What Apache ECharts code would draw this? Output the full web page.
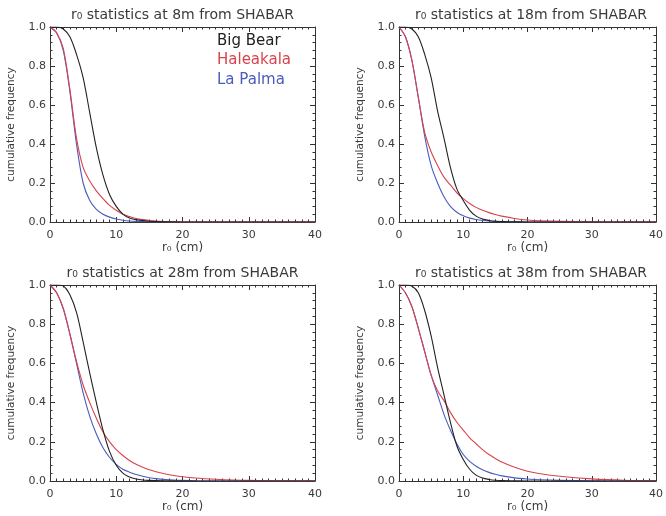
<!DOCTYPE html>
<html>
<head>
<meta charset="utf-8">
<script src="https://cdn.jsdelivr.net/npm/echarts@6/dist/echarts.min.js"></script>
<style>
html,body{margin:0;padding:0;background:#fff;}
#chart{width:666px;height:516px;}
</style>
</head>
<body>
<div id="chart"></div>
<script>
// r0 values (cm)
const xs = [0,1,2,3,4,5,6,7,8,9,10,11,12,13,14,15,16,18,20,22,25,30,35,40];

const seriesNames = ['Big Bear', 'Haleakala', 'La Palma'];
const panelTitles = [
  'r\u2080 statistics at 8m from SHABAR',
  'r\u2080 statistics at 18m from SHABAR',
  'r\u2080 statistics at 28m from SHABAR',
  'r\u2080 statistics at 38m from SHABAR'
];
const xAxisName = 'r\u2080 (cm)';
const yAxisName = 'cumulative frequency';

// 8 m
const bigBear8   = [1,1,0.99,0.95,0.86,0.74,0.56,0.38,0.24,0.14,0.08,0.04,0.02,0.012,0.007,0.004,0.002,0.001,0,0,0,0,0,0];
const haleakala8 = [1,0.97,0.89,0.68,0.43,0.28,0.21,0.16,0.12,0.085,0.06,0.04,0.028,0.018,0.012,0.008,0.005,0.002,0,0,0,0,0,0];
const laPalma8   = [1,0.97,0.88,0.67,0.40,0.20,0.11,0.065,0.04,0.025,0.015,0.009,0.005,0.003,0.002,0.001,0.0005,0,0,0,0,0,0,0];
// 18 m
const bigBear18   = [1,1,0.99,0.95,0.86,0.74,0.57,0.43,0.28,0.17,0.11,0.06,0.03,0.015,0.008,0.004,0.002,0.001,0,0,0,0,0,0];
const haleakala18 = [1,0.95,0.83,0.64,0.46,0.36,0.29,0.23,0.19,0.15,0.12,0.095,0.075,0.06,0.048,0.038,0.03,0.018,0.01,0.006,0.003,0.001,0,0];
const laPalma18   = [1,0.95,0.83,0.64,0.44,0.29,0.20,0.13,0.08,0.05,0.032,0.02,0.013,0.008,0.005,0.003,0.002,0.001,0,0,0,0,0,0];
// 28 m
const bigBear28   = [1,1,0.995,0.95,0.86,0.71,0.55,0.40,0.26,0.15,0.08,0.04,0.02,0.01,0.005,0.003,0.002,0.001,0,0,0,0,0,0];
const haleakala28 = [1,0.96,0.88,0.75,0.61,0.49,0.40,0.32,0.25,0.20,0.16,0.13,0.105,0.085,0.07,0.057,0.047,0.032,0.022,0.015,0.009,0.003,0.001,0];
const laPalma28   = [1,0.96,0.88,0.75,0.60,0.45,0.33,0.24,0.17,0.12,0.085,0.06,0.045,0.033,0.024,0.017,0.012,0.006,0.003,0.001,0,0,0,0];
// 38 m
const bigBear38   = [1,1,0.995,0.96,0.87,0.74,0.58,0.44,0.30,0.18,0.11,0.06,0.03,0.015,0.008,0.004,0.002,0.001,0,0,0,0,0,0];
const haleakala38 = [1,0.96,0.89,0.78,0.66,0.54,0.46,0.41,0.35,0.30,0.26,0.22,0.19,0.16,0.135,0.115,0.097,0.07,0.05,0.037,0.024,0.011,0.004,0.001];
const laPalma38   = [1,0.96,0.89,0.78,0.66,0.54,0.44,0.34,0.26,0.19,0.135,0.10,0.075,0.057,0.044,0.034,0.026,0.016,0.01,0.006,0.003,0.001,0,0];

const panels = [
  [bigBear8, haleakala8, laPalma8],
  [bigBear18, haleakala18, laPalma18],
  [bigBear28, haleakala28, laPalma28],
  [bigBear38, haleakala38, laPalma38]
];

const colors = ['#222222', '#d8434b', '#4a5bbd'];
const FONT = 'DejaVu Sans';
const TXT = '#3a3a3a';

const grids = [
  {left: 50, top: 27, width: 265, height: 195},
  {left: 399, top: 27, width: 264, height: 195},
  {left: 50, top: 285, width: 265, height: 196},
  {left: 399, top: 285, width: 264, height: 196}
];

const xAxes = [], yAxes = [], series = [], titles = [];
grids.forEach((g, i) => {
  const lineStyle = {color: '#333', width: 1};
  xAxes.push({
    type: 'value', gridIndex: i, position: 'bottom', min: 0, max: 40, interval: 10,
    name: xAxisName, nameLocation: 'middle', nameGap: 19,
    nameTextStyle: {fontFamily: FONT, fontSize: 12, color: TXT},
    axisLine: {show: true, onZero: false, lineStyle},
    axisTick: {show: true, inside: true, length: 5, lineStyle},
    minorTick: {show: true, splitNumber: 10, length: 2.5, lineStyle},
    axisLabel: {show: true, margin: 8, fontFamily: FONT, fontSize: 11, color: TXT},
    splitLine: {show: false}
  });
  xAxes.push({
    type: 'value', gridIndex: i, position: 'top', min: 0, max: 40, interval: 10,
    axisLine: {show: true, onZero: false, lineStyle},
    axisTick: {show: true, inside: true, length: 5, lineStyle},
    minorTick: {show: true, splitNumber: 10, length: 2.5, lineStyle},
    axisLabel: {show: false},
    splitLine: {show: false}
  });
  yAxes.push({
    type: 'value', gridIndex: i, position: 'left', min: 0, max: 1, interval: 0.2,
    name: yAxisName, nameLocation: 'middle', nameGap: 33,
    nameTextStyle: {fontFamily: FONT, fontSize: 10.5, color: TXT},
    axisLine: {show: true, onZero: false, lineStyle},
    axisTick: {show: true, inside: true, length: 5, lineStyle},
    minorTick: {show: true, splitNumber: 5, length: 2.5, lineStyle},
    axisLabel: {show: true, margin: 4, fontFamily: FONT, fontSize: 11, color: TXT,
      formatter: v => v.toFixed(1)},
    splitLine: {show: false}
  });
  yAxes.push({
    type: 'value', gridIndex: i, position: 'right', min: 0, max: 1, interval: 0.2,
    axisLine: {show: true, onZero: false, lineStyle},
    axisTick: {show: true, inside: true, length: 5, lineStyle},
    minorTick: {show: true, splitNumber: 5, length: 2.5, lineStyle},
    axisLabel: {show: false},
    splitLine: {show: false}
  });
  titles.push({
    text: panelTitles[i],
    left: g.left + g.width / 2, top: i < 2 ? 8 : 266, textAlign: 'center', padding: 0,
    textStyle: {fontFamily: FONT, fontSize: 14, fontWeight: 'normal', color: TXT}
  });
  panels[i].forEach((vals, k) => {
    series.push({
      type: 'line', name: seriesNames[k], xAxisIndex: 2 * i, yAxisIndex: 2 * i,
      data: xs.map((x, j) => [x, vals[j]]),
      smooth: 0.3, showSymbol: false, symbol: 'none',
      lineStyle: {color: colors[k], width: 1.1}, itemStyle: {color: colors[k]},
      z: 3 - k, silent: true, animation: false, clip: true
    });
  });
});

const chart = echarts.init(document.getElementById('chart'), null, {renderer: 'canvas'});
chart.setOption({
  animation: false,
  backgroundColor: '#fff',
  title: titles,
  legend: {
    show: true, orient: 'vertical', left: 212, top: 33, padding: 0,
    icon: 'none', itemWidth: 0, itemHeight: 16, itemGap: 4, selectedMode: false,
    data: seriesNames.map((n, k) => ({name: n, textStyle: {color: colors[k]}})),
    textStyle: {fontFamily: FONT, fontSize: 15}
  },
  grid: grids,
  xAxis: xAxes,
  yAxis: yAxes,
  series: series
});
</script>
</body>
</html>
